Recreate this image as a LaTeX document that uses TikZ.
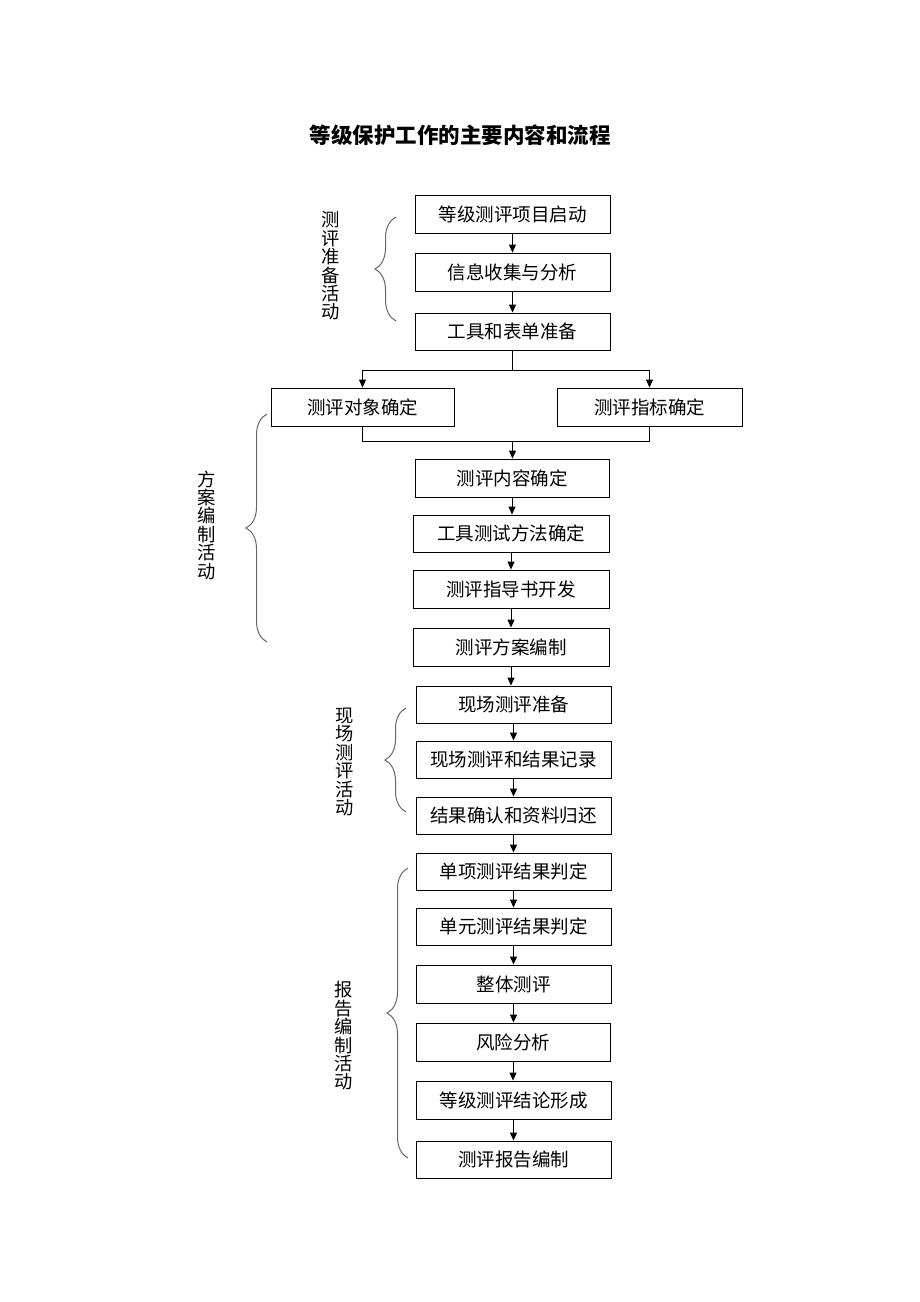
\documentclass[tikz,border=0pt]{standalone}
\usepackage{fontspec}
\setmainfont{Noto Sans CJK SC}
\usetikzlibrary{arrows.meta,decorations.pathreplacing}
\tikzset{
  box/.style={draw=black,line width=0.9pt,minimum height=38pt,inner sep=0pt,font=\fontsize{18.5}{20}\selectfont},
  arr/.style={draw=black,line width=0.9pt,-{Triangle[length=8pt,width=7pt]}},
  ln/.style={draw=black,line width=0.9pt},
  brc/.style={draw=black!60,line width=1pt,decorate,decoration={brace,amplitude=21pt,aspect=0.5}},
  vlabel/.style={align=center,inner sep=0pt,font=\fontsize{18.3}{18.4}\selectfont},
}
\begin{document}
\begin{tikzpicture}[x=1pt,y=-1pt]
\useasboundingbox[fill=white] (0,0) rectangle (920,1302);
\node[font=\fontsize{21.5}{24}\selectfont\bfseries,inner sep=0pt] (title) at (460,135) {等级保护工作的主要内容和流程};

\node[box,minimum width=195pt] (b1) at (512.5,214) {等级测评项目启动};
\node[box,minimum width=195pt] (b2) at (512.5,272) {信息收集与分析};
\node[box,minimum width=195pt,minimum height=37pt] (b3) at (512.5,331.5) {工具和表单准备};
\node[box,minimum width=183pt] (b4) at (362.5,407) {测评对象确定};
\node[box,minimum width=185pt] (b5) at (649.5,407) {测评指标确定};
\node[box,minimum width=194pt] (b6) at (512,478) {测评内容确定};
\node[box,minimum width=196pt,minimum height=37pt] (b7) at (511,533.5) {工具测试方法确定};
\node[box,minimum width=196pt] (b8) at (511,589) {测评指导书开发};
\node[box,minimum width=196pt] (b9) at (511,647) {测评方案编制};
\node[box,minimum width=195pt,minimum height=37pt] (b10) at (513.5,704.5) {现场测评准备};
\node[box,minimum width=195pt,minimum height=37pt] (b11) at (513.5,759.5) {现场测评和结果记录};
\node[box,minimum width=195pt,minimum height=37pt] (b12) at (513.5,815.5) {结果确认和资料归还};
\node[box,minimum width=195pt,minimum height=37pt] (b13) at (513.5,871.5) {单项测评结果判定};
\node[box,minimum width=195pt,minimum height=37pt] (b14) at (513.5,926.5) {单元测评结果判定};
\node[box,minimum width=195pt] (b15) at (513.5,984) {整体测评};
\node[box,minimum width=194pt] (b16) at (513,1042) {风险分析};
\node[box,minimum width=195pt] (b17) at (513.5,1100) {等级测评结论形成};
\node[box,minimum width=195pt,minimum height=37pt] (b18) at (513.5,1159.5) {测评报告编制};

% arrows
\draw[arr] (b1.south) -- (b1.south |- b2.north);
\draw[arr] (b2.south) -- (b2.south |- b3.north);
\coordinate (split) at (512.5,370);
\draw[ln] (b3.south) -- (split);
\draw[arr] (split) -| (b4.north);
\draw[arr] (split) -| (b5.north);
\coordinate (merge) at (512.5,441);
\draw[ln] (b4.south) |- (merge);
\draw[ln] (b5.south) |- (merge);
\draw[arr] (merge) -- (merge |- b6.north);
\draw[arr] (b6.south) -- (b6.south |- b7.north);
\draw[arr] (b7.south) -- (b7.south |- b8.north);
\draw[arr] (b8.south) -- (b8.south |- b9.north);
\draw[arr] (b9.south) -- (b9.south |- b10.north);
\draw[arr] (b10.south) -- (b10.south |- b11.north);
\draw[arr] (b11.south) -- (b11.south |- b12.north);
\draw[arr] (b12.south) -- (b12.south |- b13.north);
\draw[arr] (b13.south) -- (b13.south |- b14.north);
\draw[arr] (b14.south) -- (b14.south |- b15.north);
\draw[arr] (b15.south) -- (b15.south |- b16.north);
\draw[arr] (b16.south) -- (b16.south |- b17.north);
\draw[arr] (b17.south) -- (b17.south |- b18.north);

% braces
\coordinate (br1t) at (396,217); \coordinate (br1b) at (396,321);
\coordinate (br2t) at (267,414); \coordinate (br2b) at (267,642);
\coordinate (br3t) at (406,708); \coordinate (br3b) at (406,812);
\coordinate (br4t) at (408,868); \coordinate (br4b) at (408,1158);
\draw[brc] (br1b) -- (br1t);
\draw[brc] (br2b) -- (br2t);
\draw[brc] (br3b) -- (br3t);
\draw[brc] (br4b) -- (br4t);

\node[vlabel] (l1) at (331,266) {测\\评\\准\\备\\活\\动};
\node[vlabel] (l2) at (207,525) {方\\案\\编\\制\\活\\动};
\node[vlabel] (l3) at (345,762) {现\\场\\测\\评\\活\\动};
\node[vlabel] (l4) at (344,1036) {报\\告\\编\\制\\活\\动};
\end{tikzpicture}
\end{document}
